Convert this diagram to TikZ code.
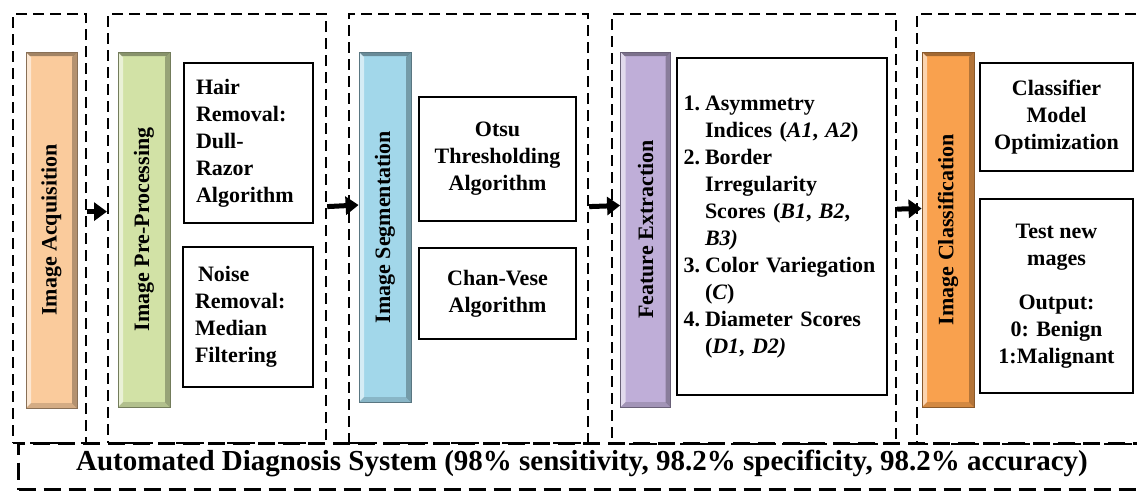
\documentclass[tikz,border=0pt]{standalone}
\usepackage{fontspec}
\setmainfont{Liberation Serif}
\usetikzlibrary{arrows.meta}
\definecolor{cAcq}{HTML}{FACB9C}
\definecolor{cPre}{HTML}{D2E2A6}
\definecolor{cSeg}{HTML}{A2D7EA}
\definecolor{cFea}{HTML}{BFAED8}
\definecolor{cCla}{HTML}{F9A14E}
\begin{document}
\begin{tikzpicture}[x=1pt,y=-1pt,
  stage/.style={draw=black, line width=2.2pt, dash pattern=on 11pt off 6pt, inner sep=0pt, anchor=north west},
  sysbox/.style={draw=black, line width=3pt, dash pattern=on 17pt off 8pt, inner sep=0pt, anchor=north west},
  txtbox/.style={draw=black, line width=2pt, inner sep=0pt, font=\bfseries\fontsize{22}{27}\selectfont},
  flow/.style={line width=5pt, -{Triangle[length=13pt,width=18pt]}},
  lbl/.style={font=\bfseries\fontsize{22}{27}\selectfont, rotate=90, inner sep=0pt},
  bar/.style={fill=#1, draw=#1!55!black, line width=0.8pt, inner sep=0pt,
    path picture={
      \coordinate (pnw) at (path picture bounding box.north west);
      \coordinate (pne) at (path picture bounding box.north east);
      \coordinate (psw) at (path picture bounding box.south west);
      \coordinate (pse) at (path picture bounding box.south east);
      \fill[white,opacity=.55] (pnw) -- (psw) -- ([xshift=5pt,yshift=5pt]psw) -- ([xshift=5pt,yshift=-5pt]pnw) -- cycle;
      \fill[black,opacity=.28] (pne) -- (pse) -- ([xshift=-5pt,yshift=5pt]pse) -- ([xshift=-5pt,yshift=-5pt]pne) -- cycle;
      \fill[black,opacity=.15] (psw) -- (pse) -- ([xshift=-5pt,yshift=5pt]pse) -- ([xshift=5pt,yshift=5pt]psw) -- cycle;
      \fill[black,opacity=.35] (pnw) -- (pne) -- ([xshift=-4pt,yshift=-4pt]pne) -- ([xshift=4pt,yshift=-4pt]pnw) -- cycle;
    }}
]
\useasboundingbox (0,0) rectangle (1137,491);

% stage dashed boxes
\node[stage, minimum width=73pt, minimum height=429pt] (s1) at (12,13) {};
\node[stage, minimum width=218pt, minimum height=429pt] (s2) at (107,13) {};
\node[stage, minimum width=239pt, minimum height=429pt] (s3) at (348,13) {};
\node[stage, minimum width=284pt, minimum height=430pt] (s4) at (611,13) {};
\node[stage, minimum width=226pt, minimum height=430pt] (s5) at (916,13) {};

% system box
\node[sysbox, minimum width=1130pt, minimum height=46pt] (sys) at (17,442) {};
\node[font=\bfseries\fontsize{29}{32}\selectfont, inner sep=0pt] (systxt) at (582,463)
  {Automated Diagnosis System (98\% sensitivity, 98.2\% specificity, 98.2\% accuracy)};

% bars
\node[bar=cAcq, minimum width=51pt, minimum height=356pt] (b1) at (51.5,230) {};
\node[bar=cPre, minimum width=52pt, minimum height=355pt] (b2) at (144,229.5) {};
\node[bar=cSeg, minimum width=52pt, minimum height=350pt] (b3) at (385,227) {};
\node[bar=cFea, minimum width=50pt, minimum height=355pt] (b4) at (645.5,229.5) {};
\node[bar=cCla, minimum width=52pt, minimum height=355pt] (b5) at (948,229.5) {};

\node[lbl] (t1) at (b1) {Image Acquisition};
\node[lbl] (t2) at (b2) {Image Pre-Processing};
\node[lbl] (t3) at (b3) {Image Segmentation};
\node[lbl] (t4) at (b4) {Feature Extraction};
\node[lbl] (t5) at (b5) {Image Classification};

% text boxes
\node[txtbox, text width=105pt, inner xsep=12pt, minimum height=160pt, align=left] (h1) at (248.5,143)
  {Hair\\Removal:\\Dull-\\Razor\\Algorithm};
\node[txtbox, text width=106pt, inner xsep=12pt, minimum height=140pt, align=left] (h2) at (248,317)
  {\hspace*{3pt}Noise\\Removal:\\Median\\Filtering};
\node[txtbox, minimum width=157pt, minimum height=124pt, align=center] (o1) at (497.5,159)
  {Otsu\\Thresholding\\Algorithm};
\node[txtbox, minimum width=157pt, minimum height=91pt, align=center] (o2) at (497.5,293.5)
  {Chan-Vese\\Algorithm};
\node[txtbox, text width=197pt, inner xsep=6.5pt, minimum height=337pt, align=left] (f1) at (782,226.5)
  {\begin{tabular}{@{}l@{\hspace{5pt}}l@{}}
   1. & Asymmetry\\
      & Indices (\textit{A1}, \textit{A2})\\
   2. & Border\\
      & Irregularity\\
      & Scores (\textit{B1}, \textit{B2},\\
      & \textit{B3)}\\
   3. & Color Variegation\\
      & (\textit{C})\\
   4. & Diameter Scores\\
      & (\textit{D1}, \textit{D2)}
   \end{tabular}};
\node[txtbox, minimum width=153pt, minimum height=108pt, align=center] (c1) at (1056.5,117)
  {Classifier\\Model\\Optimization};
\node[txtbox, minimum width=153pt, minimum height=194pt, align=center] (c2) at (1056.5,296)
  {Test new\\mages\\[17pt]Output:\\0: Benign\\1:Malignant};

% flow arrows
\draw[flow] ([yshift=17pt]s1.east) -- ([yshift=17pt]s2.west);
\draw[flow] ([yshift=22pt]s2.east) -- ([yshift=22pt]b3.west);
\draw[flow] ([yshift=22pt]s3.east) -- ([yshift=24pt]b4.west);
\draw[flow] ([yshift=20pt]s4.east) -- ([yshift=21pt]b5.west);
\end{tikzpicture}
\end{document}
